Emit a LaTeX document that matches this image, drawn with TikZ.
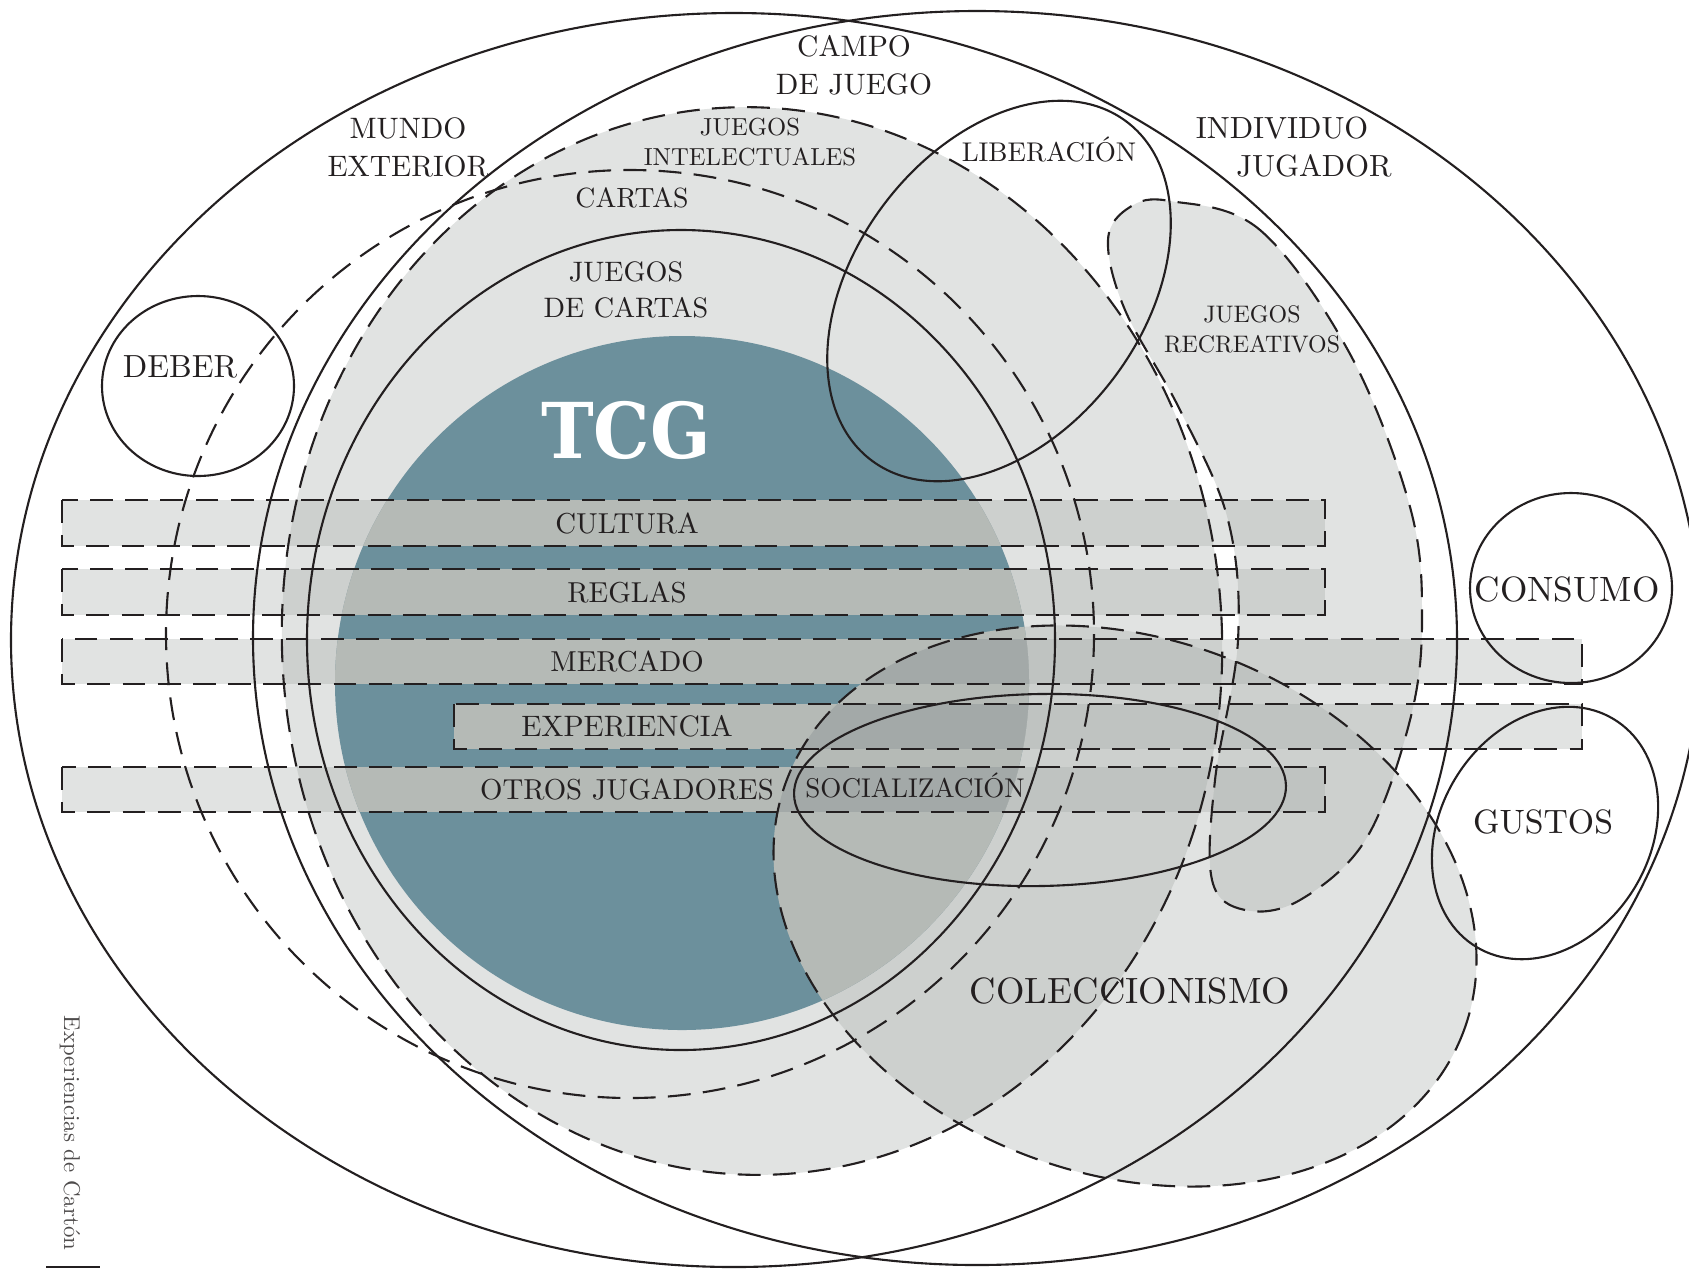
\documentclass[tikz,border=0pt]{standalone}
\usepackage{fontspec}
\usepackage{tikz}
\setmainfont{lmroman10-regular.otf}
\newfontfamily\tcgfont[FakeStretch=0.92]{DejaVu Serif}
\definecolor{inkline}{HTML}{231F20}
\definecolor{tcgblue}{HTML}{6C909C}
\definecolor{fieldgrey}{HTML}{E1E3E2}
\definecolor{bandgrey}{HTML}{A5AAA7}
\definecolor{bandonblue}{HTML}{B5BAB6}
\definecolor{banddeep}{HTML}{A3A9A8}
\newcommand{\bandlist}{62/500/1325/546, 62/569/1325/615, 62/639/1582/684, 454/704/1582/749, 62/767/1325/812}
\begin{document}
\begin{tikzpicture}[x=0.01cm, y=-0.01cm,
		outline/.style={draw=inkline, line width=0.6pt},
		dashline/.style={draw=inkline, line width=0.6pt, dash pattern=on 6.5pt off 3.5pt},
		band/.style={fill=bandgrey, fill opacity=0.33},
		lbl/.style={text=inkline, inner sep=0pt, align=center}]
	\useasboundingbox (0,0) rectangle (1689,1269);
	% filled areas
	\fill[fieldgrey, rotate around={3:(752,641)}] (752,641) ellipse [x radius=470, y radius=534];
	\fill[fieldgrey] plot[smooth cycle, tension=0.6] coordinates {(1170,201) (1260,230) (1350,354) (1410,507) (1422,619) (1410,720) (1366,839) (1300,900) (1245,910) (1212,880) (1215,780) (1238,640) (1228,520) (1180,410) (1125,310) (1108,240) (1130,207)};
	\fill[tcgblue] (682,683) circle [radius=347];
	\foreach \xa/\ya/\xb/\yb in \bandlist
		\fill[band] (\xa,\ya) rectangle (\xb,\yb);
	\fill[band, rotate around={-20:(1125,906)}] (1125,906) ellipse [x radius=361, y radius=268];
	% bands seen over the blue disc
	\begin{scope}
		\clip (682,683) circle [radius=347];
		\foreach \xa/\ya/\xb/\yb in \bandlist
			\fill[bandonblue] (\xa,\ya) rectangle (\xb,\yb);
		\fill[bandonblue, rotate around={-20:(1125,906)}] (1125,906) ellipse [x radius=361, y radius=268];
		\begin{scope}
			\clip[rotate around={-20:(1125,906)}] (1125,906) ellipse [x radius=361, y radius=268];
			\foreach \xa/\ya/\xb/\yb in \bandlist
				\fill[banddeep] (\xa,\ya) rectangle (\xb,\yb);
		\end{scope}
	\end{scope}
	% outlines
	\draw[outline] (734,640) ellipse [x radius=723, y radius=627];
	\draw[outline] (977,638) ellipse [x radius=724, y radius=627];
	\draw[dashline, rotate around={3:(752,641)}] (752,641) ellipse [x radius=470, y radius=534];
	\draw[dashline] plot[smooth cycle, tension=0.6] coordinates {(1170,201) (1260,230) (1350,354) (1410,507) (1422,619) (1410,720) (1366,839) (1300,900) (1245,910) (1212,880) (1215,780) (1238,640) (1228,520) (1180,410) (1125,310) (1108,240) (1130,207)};
	\draw[dashline] (630,634) circle [radius=464];
	\draw[outline] (681,640) ellipse [x radius=374, y radius=410];
	\draw[outline, rotate around={53:(999,291)}] (999,291) ellipse [x radius=212, y radius=144];
	\draw[dashline, rotate around={-20:(1125,906)}] (1125,906) ellipse [x radius=361, y radius=268];
	\draw[outline, rotate around={1:(1040,790)}] (1040,790) ellipse [x radius=246, y radius=96];
	\draw[outline] (198,386) ellipse [x radius=96, y radius=90];
	\draw[outline] (1571,588) ellipse [x radius=101, y radius=95];
	\draw[outline, rotate around={59:(1545,833)}] (1545,833) ellipse [x radius=133, y radius=105];
	\foreach \xa/\ya/\xb/\yb in \bandlist
		\draw[dashline] (\xa,\ya) rectangle (\xb,\yb);
	% labels
	\node at (408,147) (mundo) [lbl, font={\fontsize{8.4}{10.8}\selectfont}] {MUNDO\\EXTERIOR};
	\node at (854,65) (campo) [lbl, font={\fontsize{8.4}{10.8}\selectfont}] {CAMPO\\DE JUEGO};
	\node at (1282,128) (individuo) [lbl, font={\fontsize{8.7}{10.8}\selectfont}] {INDIVIDUO};
	\node at (1314,166) (jugador) [lbl, font={\fontsize{8.7}{10.8}\selectfont}] {JUGADOR};
	\node at (750,142) (intelect) [lbl, font={\fontsize{7}{8.5}\selectfont}] {JUEGOS\\INTELECTUALES};
	\node at (632,198) (cartas) [lbl, font={\fontsize{7.9}{10}\selectfont}] {CARTAS};
	\node at (626,290) (jcartas) [lbl, font={\fontsize{8}{10.2}\selectfont}] {JUEGOS\\DE CARTAS};
	\node at (1049,149) (liberacion) [lbl, font={\fontsize{7.7}{10}\selectfont}] {LIBERACIÓN};
	\node at (1252,329) (recreat) [lbl, font={\fontsize{6.8}{8.5}\selectfont}] {JUEGOS\\RECREATIVOS};
	\node at (626,430) (tcg) [lbl, text=white, font={\tcgfont\bfseries\fontsize{21.9}{24}\selectfont}] {TCG};
	\node at (180,367) (deber) [lbl, font={\fontsize{9.1}{11}\selectfont}] {DEBER};
	\node at (1567,589) (consumo) [lbl, font={\fontsize{10}{12}\selectfont}] {CONSUMO};
	\node at (1543,822) (gustos) [lbl, font={\fontsize{9.6}{12}\selectfont}] {GUSTOS};
	\node at (1130,991) (colecc) [lbl, font={\fontsize{10.4}{12}\selectfont}] {COLECCIONISMO};
	\node at (627,523) (cultura) [lbl, font={\fontsize{8.2}{10}\selectfont}] {CULTURA};
	\node at (627,592) (reglas) [lbl, font={\fontsize{8.2}{10}\selectfont}] {REGLAS};
	\node at (627,661) (mercado) [lbl, font={\fontsize{8.2}{10}\selectfont}] {MERCADO};
	\node at (627,726) (experiencia) [lbl, font={\fontsize{8.4}{10}\selectfont}] {EXPERIENCIA};
	\node at (627,789) (otros) [lbl, font={\fontsize{8.2}{10}\selectfont}] {OTROS JUGADORES};
	\node at (915,785) (social) [lbl, font={\fontsize{7.7}{10}\selectfont}] {SOCIALIZACIÓN};
	\node at (70,1133) (credit) [lbl, rotate=-90, text=inkline!80, font={\fontsize{6.5}{8}\selectfont}] {Experiencias de Cartón};
	\draw[inkline, line width=0.6pt] (46,1267) -- (100,1267);
\end{tikzpicture}
\end{document}
